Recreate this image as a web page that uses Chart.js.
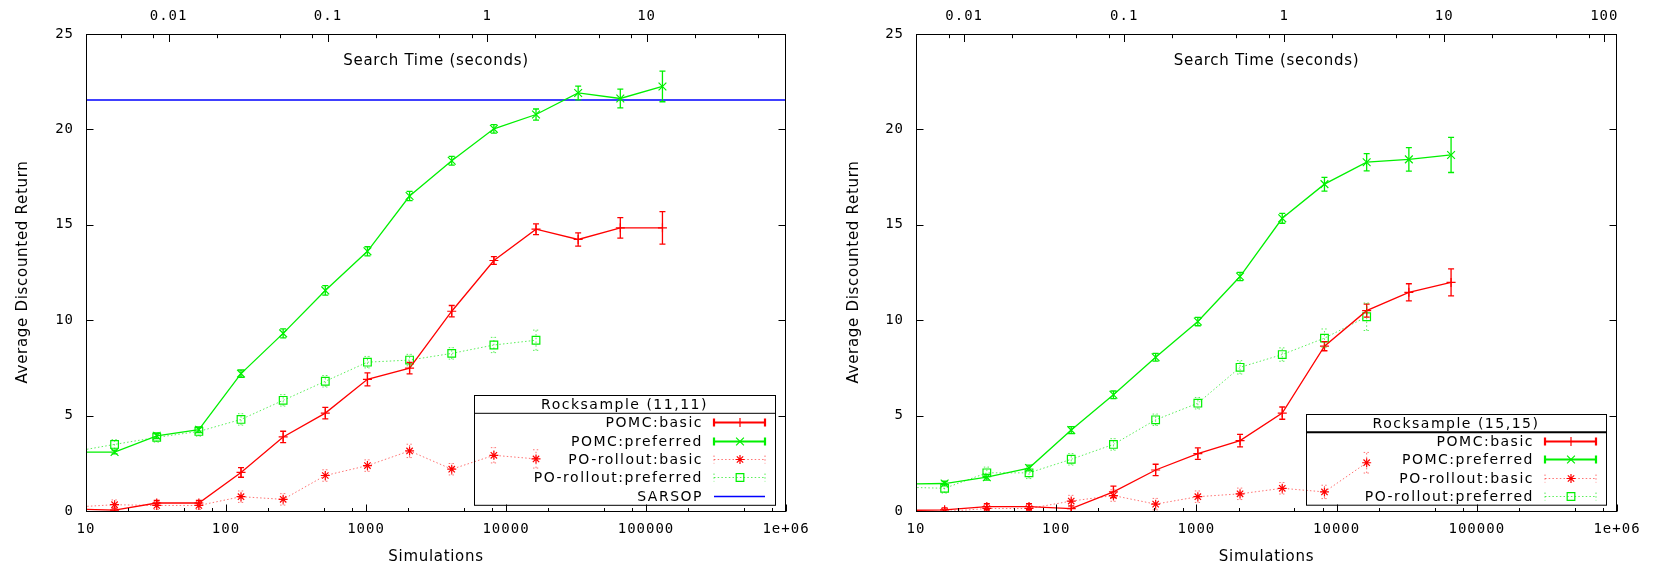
<!DOCTYPE html>
<html>
<head>
<meta charset="utf-8">
<script src="https://cdn.jsdelivr.net/npm/chart.js@4.4.1/dist/chart.umd.min.js"></script>
<style>
  html, body { margin: 0; padding: 0; background: #fff; }
  #wrap { position: relative; width: 1675px; height: 574px; }
  .box { position: absolute; top: 0; height: 574px; }
  #left { left: 0; width: 837px; }
  #right { left: 837px; width: 838px; }
</style>
</head>
<body>
<div id="wrap">
  <div class="box" id="left"><canvas id="chart11"></canvas></div>
  <div class="box" id="right"><canvas id="chart15"></canvas></div>
</div>
<script>
// number of simulations per point (first one lies left of the axis and is clipped)
const simulations = [8, 16, 32, 64, 128, 256, 512, 1024, 2048, 4096, 8192, 16384, 32768, 65536, 131072];

// Rocksample (11,11)
const pomcBasic11     = [0.1, 0.05, 0.42, 0.42, 2.02, 3.88, 5.13, 6.9, 7.49, 10.47, 13.13, 14.77, 14.23, 14.84, 14.84];
const pomcBasic11Err  = [0.1, 0.1, 0.13, 0.13, 0.25, 0.3, 0.3, 0.34, 0.3, 0.3, 0.2, 0.28, 0.35, 0.54, 0.85];
const pomcPref11      = [3.09, 3.09, 3.94, 4.26, 7.2, 9.31, 11.56, 13.61, 16.51, 18.36, 20.03, 20.78, 21.91, 21.62, 22.25];
const pomcPref11Err   = [0.1, 0.1, 0.15, 0.15, 0.19, 0.24, 0.25, 0.24, 0.24, 0.23, 0.22, 0.29, 0.36, 0.49, 0.8];
const rolloutBasic11    = [0.2, 0.33, 0.29, 0.29, 0.75, 0.61, 1.86, 2.38, 3.15, 2.19, 2.92, 2.73];
const rolloutBasic11Err = [0.2, 0.25, 0.2, 0.2, 0.3, 0.3, 0.3, 0.3, 0.35, 0.3, 0.4, 0.48];
const rolloutPref11     = [3.1, 3.49, 3.86, 4.17, 4.8, 5.8, 6.8, 7.8, 7.91, 8.26, 8.7, 8.95];
const rolloutPref11Err  = [0.2, 0.25, 0.25, 0.25, 0.3, 0.3, 0.3, 0.3, 0.3, 0.3, 0.4, 0.53];
const sarsop11 = 21.54;

// Rocksample (15,15)
const pomcBasic15     = [0.03, 0.06, 0.23, 0.23, 0.12, 1.0, 2.15, 3.01, 3.69, 5.13, 8.64, 10.5, 11.46, 11.98];
const pomcBasic15Err  = [0.1, 0.1, 0.15, 0.15, 0.15, 0.3, 0.3, 0.3, 0.33, 0.32, 0.24, 0.34, 0.45, 0.71];
const pomcPref15      = [1.42, 1.44, 1.77, 2.25, 4.24, 6.09, 8.06, 9.93, 12.29, 15.34, 17.13, 18.28, 18.43, 18.66];
const pomcPref15Err   = [0.1, 0.12, 0.15, 0.15, 0.18, 0.2, 0.2, 0.22, 0.22, 0.26, 0.36, 0.45, 0.62, 0.92];
const rolloutBasic15    = [0.0, -0.03, 0.13, 0.13, 0.52, 0.81, 0.36, 0.75, 0.9, 1.19, 1.0, 2.53];
const rolloutBasic15Err = [0.15, 0.15, 0.2, 0.2, 0.3, 0.3, 0.3, 0.3, 0.3, 0.3, 0.35, 0.54];
const rolloutPref15     = [1.25, 1.19, 2.0, 2.0, 2.71, 3.49, 4.78, 5.65, 7.53, 8.2, 9.06, 10.18];
const rolloutPref15Err  = [0.2, 0.25, 0.3, 0.3, 0.3, 0.3, 0.3, 0.3, 0.35, 0.35, 0.48, 0.72];

// axes
const simTicks = [10, 100, 1000, 10000, 100000, 1000000];
const timeTicks11 = [0.01, 0.1, 1, 10];
const timeTicks15 = [0.01, 0.1, 1, 10, 100];
const timeRange11 = [0.00303, 75];
const timeRange15 = [0.005, 120];
const yTicks = [0, 5, 10, 15, 20, 25];
const minorSteps = [2, 5, 8];

const RED = '#ff0000', RED_DOT = 'rgba(255,40,40,0.65)';
const GREEN = '#00f000', GREEN_DOT = 'rgba(0,230,0,0.65)';
const BLUE = '#0000ff';

function points(ys) {
  return ys.map((y, i) => ({ x: simulations[i], y: y }));
}

function drawErrorBars(chart) {
  const ctx = chart.ctx, a = chart.chartArea;
  const xs = chart.scales.x, ys = chart.scales.y;
  ctx.save();
  ctx.beginPath();
  ctx.rect(a.left, a.top, a.right - a.left, a.bottom - a.top);
  ctx.clip();
  chart.data.datasets.forEach(ds => {
    if (!ds.errors) return;
    ctx.strokeStyle = ds.borderColor;
    ctx.lineWidth = ds.borderWidth;
    ctx.setLineDash(ds.borderDash || []);
    ds.data.forEach((p, i) => {
      const e = ds.errors[i];
      const px = xs.getPixelForValue(p.x);
      const y1 = ys.getPixelForValue(p.y - e), y2 = ys.getPixelForValue(p.y + e);
      ctx.beginPath();
      ctx.moveTo(px, y1); ctx.lineTo(px, y2);
      ctx.moveTo(px - 3, y1); ctx.lineTo(px + 3, y1);
      ctx.moveTo(px - 3, y2); ctx.lineTo(px + 3, y2);
      ctx.stroke();
    });
  });
  ctx.restore();
}

function logMarks(scale) {
  const out = [];
  const lo = Math.floor(Math.log10(scale.min)), hi = Math.ceil(Math.log10(scale.max));
  for (let k = lo; k <= hi; k++) {
    const base = Math.pow(10, k);
    if (base >= scale.min * 0.999 && base <= scale.max * 1.001) out.push({ v: base, major: true });
    minorSteps.forEach(m => {
      const v = m * base;
      if (v > scale.min && v < scale.max) out.push({ v: v, major: false });
    });
  }
  return out;
}

function drawFrameAndTicks(chart) {
  const ctx = chart.ctx, a = chart.chartArea;
  const L = Math.round(a.left) + 0.5, R = Math.round(a.right) - 0.5;
  const T = Math.round(a.top) + 0.5, B = Math.round(a.bottom) + 0.5;
  ctx.save();
  ctx.strokeStyle = '#000';
  ctx.lineWidth = 1;
  ctx.setLineDash([]);
  ctx.strokeRect(L, T, R - L, B - T);
  ctx.beginPath();
  yTicks.forEach(v => {
    const y = Math.round(chart.scales.y.getPixelForValue(v)) + 0.5;
    ctx.moveTo(L, y); ctx.lineTo(L + 7, y);
    ctx.moveTo(R, y); ctx.lineTo(R - 7, y);
  });
  logMarks(chart.scales.x).forEach(t => {
    const x = Math.round(chart.scales.x.getPixelForValue(t.v)) + 0.5;
    ctx.moveTo(x, B); ctx.lineTo(x, B - (t.major ? 7 : 3.5));
  });
  logMarks(chart.scales.x2).forEach(t => {
    const x = Math.round(chart.scales.x2.getPixelForValue(t.v)) + 0.5;
    ctx.moveTo(x, T); ctx.lineTo(x, T + (t.major ? 7.5 : 3.7));
  });
  ctx.stroke();
  ctx.restore();
}

function drawTitles(chart, o) {
  const ctx = chart.ctx, a = chart.chartArea;
  const cx = (a.left + a.right) / 2;
  ctx.save();
  ctx.fillStyle = '#000';
  ctx.font = '15px "DejaVu Sans"';
  ctx.letterSpacing = '0.7px';
  ctx.textAlign = 'center';
  ctx.textBaseline = 'middle';
  ctx.fillText('Search Time (seconds)', cx, a.top + 27);
  ctx.fillText('Simulations', cx, 557);
  ctx.translate(o.yTitleX, 272);
  ctx.rotate(-Math.PI / 2);
  ctx.fillText('Average Discounted Return', 0, 0);
  ctx.restore();
}

function drawLegend(chart, o) {
  const ctx = chart.ctx, g = o.legend;
  const rows = chart.data.datasets;
  const sep = g.top + g.titleH;
  const bottom = sep + rows.length * g.rowH;
  ctx.save();
  ctx.strokeStyle = '#000';
  ctx.lineWidth = 1;
  ctx.strokeRect(g.left + 0.5, g.top + 0.5, g.right - g.left, bottom - g.top);
  ctx.lineWidth = g.sepWidth;
  ctx.beginPath();
  ctx.moveTo(g.left, sep); ctx.lineTo(g.right, sep);
  ctx.stroke();

  ctx.fillStyle = '#000';
  ctx.font = '14px "DejaVu Sans"';
  ctx.letterSpacing = '1.5px';
  ctx.textBaseline = 'middle';
  ctx.textAlign = 'center';
  ctx.fillText(o.legendTitle, (g.left + g.right) / 2, g.top + g.titleH / 2 + 1);

  rows.forEach((ds, i) => {
    const y = Math.round(sep + g.rowH * (i + 0.5)) + 0.5;
    ctx.fillStyle = '#000';
    ctx.textAlign = 'right';
    ctx.fillText(ds.label, g.right - 72, y + 1);
    const x1 = g.right - 61, x2 = g.right - 10;
    ctx.strokeStyle = ds.borderColor;
    ctx.lineWidth = ds.errors && !ds.borderDash ? 2.2 : ds.borderWidth;
    ctx.setLineDash(ds.borderDash || []);
    ctx.beginPath();
    ctx.moveTo(x1, y); ctx.lineTo(x2, y);
    if (ds.errors) {
      ctx.moveTo(x1, y - 4); ctx.lineTo(x1, y + 4);
      ctx.moveTo(x2, y - 4); ctx.lineTo(x2, y + 4);
    }
    ctx.stroke();
    ctx.setLineDash([]);
    if (ds.pointRadius > 0) {
      ctx.strokeStyle = ds.pointBorderColor;
      ctx.fillStyle = 'rgba(0,0,0,0)';
      ctx.lineWidth = ds.pointBorderWidth;
      Chart.helpers.drawPoint(ctx, {
        pointStyle: ds.pointStyle, radius: ds.pointRadius, rotation: 0, borderWidth: ds.pointBorderWidth
      }, (x1 + x2) / 2 + 0.5, y);
    }
  });
  ctx.restore();
}

const gnuplotLook = {
  id: 'gnuplotLook',
  beforeDraw(chart) { chart.ctx.letterSpacing = '1px'; },
  afterDatasetsDraw(chart) { drawErrorBars(chart); },
  afterDraw(chart, args, opts) {
    drawFrameAndTicks(chart);
    drawTitles(chart, opts);
    drawLegend(chart, opts);
  }
};

function series(label, ys, errs, color, dotted, style, radius) {
  return {
    label: label,
    data: points(ys),
    errors: errs,
    borderColor: dotted ? (color === RED ? RED_DOT : GREEN_DOT) : color,
    borderWidth: dotted ? 1 : 1.3,
    borderDash: dotted ? [1.5, 2.2] : undefined,
    pointStyle: style,
    pointRadius: radius,
    pointBorderColor: color,
    pointBackgroundColor: 'rgba(0,0,0,0)',
    pointBorderWidth: 1.2,
    tension: 0,
    fill: false
  };
}

function makeChart(id, cfg) {
  const tickFont = { family: '"DejaVu Sans Mono"', size: 14 };
  const noGrid = { display: false, drawTicks: false };
  return new Chart(document.getElementById(id), {
    type: 'line',
    data: { datasets: cfg.datasets },
    options: {
      responsive: true,
      maintainAspectRatio: false,
      animation: false,
      layout: { padding: { left: 0, right: cfg.padRight, top: 0, bottom: 0 } },
      plugins: {
        legend: { display: false },
        tooltip: { enabled: false },
        gnuplotLook: cfg.look
      },
      scales: {
        x: {
          type: 'logarithmic', position: 'bottom', min: 10, max: 1e6,
          afterBuildTicks: s => { s.ticks = simTicks.map(v => ({ value: v })); },
          afterFit: s => { s.height = 63; },
          grid: noGrid, border: { display: false },
          ticks: {
            autoSkip: false, maxRotation: 0, padding: 10, color: '#000', font: tickFont,
            callback: v => (v >= 1e6 ? '1e+06' : String(v))
          }
        },
        x2: {
          type: 'logarithmic', position: 'top', min: cfg.timeRange[0], max: cfg.timeRange[1],
          afterBuildTicks: s => { s.ticks = cfg.timeTicks.map(v => ({ value: v })); },
          afterFit: s => { s.height = 34; },
          grid: noGrid, border: { display: false },
          ticks: {
            autoSkip: false, maxRotation: 0, padding: 9, color: '#000', font: tickFont,
            callback: v => String(v)
          }
        },
        y: {
          type: 'linear', position: 'left', min: 0, max: 25,
          afterBuildTicks: s => { s.ticks = yTicks.map(v => ({ value: v })); },
          afterFit: s => { s.width = cfg.yWidth; },
          grid: noGrid, border: { display: false },
          ticks: { padding: 12, color: '#000', font: tickFont }
        }
      }
    },
    plugins: [gnuplotLook]
  });
}

makeChart('chart11', {
  padRight: 51, yWidth: 86, timeRange: timeRange11, timeTicks: timeTicks11,
  look: {
    yTitleX: 23, legendTitle: 'Rocksample (11,11)',
    legend: { left: 474, right: 775, top: 395, titleH: 18.3, rowH: 18.3, sepWidth: 1 }
  },
  datasets: [
    series('POMC:basic', pomcBasic11, pomcBasic11Err, RED, false, 'cross', 4.5),
    series('POMC:preferred', pomcPref11, pomcPref11Err, GREEN, false, 'crossRot', 5.5),
    series('PO-rollout:basic', rolloutBasic11, rolloutBasic11Err, RED, true, 'star', 4.5),
    series('PO-rollout:preferred', rolloutPref11, rolloutPref11Err, GREEN, true, 'rect', 5.4),
    {
      label: 'SARSOP',
      data: [{ x: 10, y: sarsop11 }, { x: 1e6, y: sarsop11 }],
      borderColor: BLUE, borderWidth: 1.3, pointRadius: 0, fill: false
    }
  ]
});

makeChart('chart15', {
  padRight: 58, yWidth: 79, timeRange: timeRange15, timeTicks: timeTicks15,
  look: {
    yTitleX: 17, legendTitle: 'Rocksample (15,15)',
    legend: { left: 469, right: 769, top: 414, titleH: 18.3, rowH: 18.1, sepWidth: 2 }
  },
  datasets: [
    series('POMC:basic', pomcBasic15, pomcBasic15Err, RED, false, 'cross', 4.5),
    series('POMC:preferred', pomcPref15, pomcPref15Err, GREEN, false, 'crossRot', 5.5),
    series('PO-rollout:basic', rolloutBasic15, rolloutBasic15Err, RED, true, 'star', 4.5),
    series('PO-rollout:preferred', rolloutPref15, rolloutPref15Err, GREEN, true, 'rect', 5.4)
  ]
});
</script>
</body>
</html>
